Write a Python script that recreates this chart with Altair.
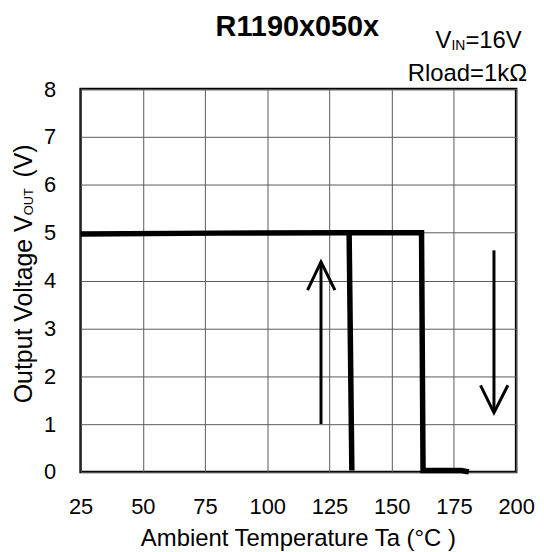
import altair as alt
import pandas as pd

FONT = "Liberation Sans, Arial, sans-serif"

temp_ticks = [25, 50, 75, 100, 125, 150, 175, 200]
volt_ticks = [0, 1, 2, 3, 4, 5, 6, 7, 8]

# heating path: 5V until shutdown, then 0V
heat_t = [25, 80, 130, 162.0, 162.6, 178, 181]
heat_v = [4.97, 4.99, 5.0, 5.0, 0.03, 0.03, 0.0]
# cooling: recovery edge
cool_t = [134.0, 132.9]
cool_v = [0.03, 5.0]

# arrows (shaft + head)
up_shaft_t = [121.6, 121.6]
up_shaft_v = [1.0, 4.39]
up_head_t = [116.2, 121.6, 127.2]
up_head_v = [3.80, 4.39, 3.80]
dn_shaft_t = [191.1, 191.1]
dn_shaft_v = [4.63, 1.24]
dn_head_t = [185.7, 191.1, 196.7]
dn_head_v = [1.81, 1.24, 1.81]


def seg_df(name, ts, vs):
    return pd.DataFrame({"t": ts, "v": vs, "seg": name, "o": list(range(len(ts)))})


curve = pd.concat([seg_df("heat", heat_t, heat_v), seg_df("cool", cool_t, cool_v)])
arrows = pd.concat([
    seg_df("us", up_shaft_t, up_shaft_v), seg_df("uh", up_head_t, up_head_v),
    seg_df("ds", dn_shaft_t, dn_shaft_v), seg_df("dh", dn_head_t, dn_head_v),
])

x_enc = alt.X("t:Q", scale=alt.Scale(domain=[25, 200], nice=False, zero=False),
              axis=alt.Axis(values=temp_ticks, title=None, ticks=False, domain=False,
                            labelPadding=25, format="d", labelFlush=False,
                            labelOverlap=False))
y_enc = alt.Y("v:Q", scale=alt.Scale(domain=[0, 8], nice=False),
              axis=alt.Axis(values=volt_ticks, title=None, ticks=False, domain=False,
                            labelPadding=25, format="d", labelFlush=False,
                            labelOverlap=False))

curve_layer = alt.Chart(curve).mark_line(color="black", strokeWidth=5.5, strokeJoin="miter",
                                         strokeCap="butt", clip=False).encode(
    x=x_enc, y=y_enc, detail="seg:N", order="o:Q")

arrow_layer = alt.Chart(arrows).mark_line(color="black", strokeWidth=3, strokeJoin="miter",
                                          strokeCap="butt").encode(
    x="t:Q", y="v:Q", detail="seg:N", order="o:Q")

one = pd.DataFrame({"a": [0]})


def txt(text, x, y, size=24, align="left", weight="normal", angle=0):
    m = dict(text=text, font=FONT, fontSize=size, align=align, baseline="alphabetic",
             fontWeight=weight, color="black")
    if angle:
        m["angle"] = angle
    return alt.Chart(one).mark_text(**m).encode(x=alt.value(x), y=alt.value(y))


texts = [
    txt("R1190x050x", 218, -53, size=29, align="center", weight="bold"),
    txt("V", 357, -41),
    txt("IN", 373, -39.5, size=14),
    txt("=16V", 387, -41),
    txt("Rload=1kΩ", 449, -8, align="right"),
    txt("Ambient Temperature Ta (°C )", 219, 460, align="center"),
    txt("Output Voltage V", -49, 127, size=25, align="right", angle=270),
    txt("OUT", -47.5, 127, size=13, angle=270),
    txt("(V)", -49, 89, size=25, angle=270),
]

chart = alt.layer(curve_layer, arrow_layer, *texts).properties(
    width=438, height=385,
    padding={"left": 73, "top": 80, "right": 20, "bottom": 79},
    autosize=alt.AutoSizeParams(type="none"),
).configure_view(stroke="black", strokeWidth=2.5).configure_axis(
    labelFont=FONT, labelFontSize=22, labelColor="black",
    grid=True, gridColor="#5a5a5a", gridWidth=1, gridOpacity=1,
)

chart.save("out.html", embed_options={"renderer": "svg", "actions": False})
